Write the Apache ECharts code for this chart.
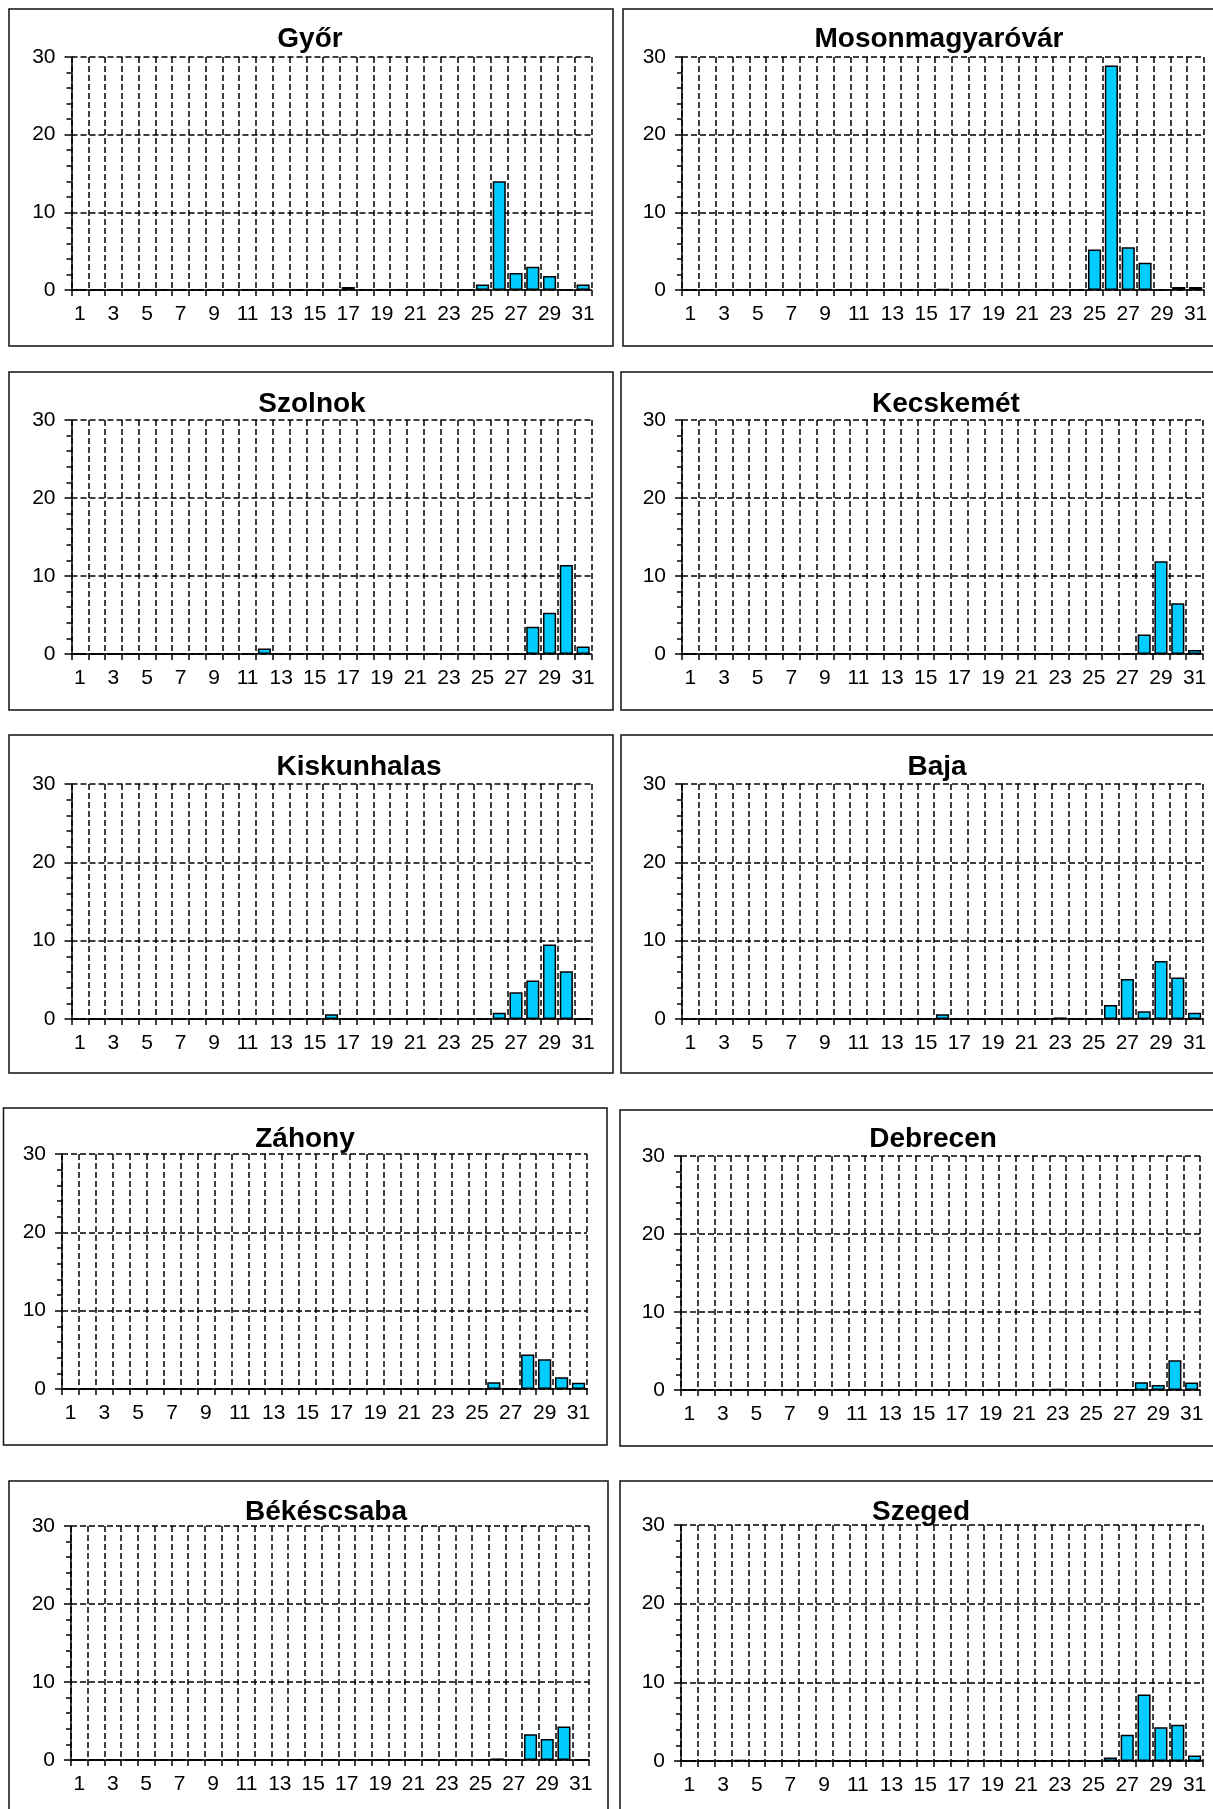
<!DOCTYPE html>
<html>
<head>
<meta charset="utf-8">
<title>Napi megoszlás</title>
<script src="https://cdn.jsdelivr.net/npm/echarts@6/dist/echarts.min.js"></script>
<style>
  html, body { margin: 0; padding: 0; background: #fff; }
  #chart { width: 1213px; height: 1809px; }
</style>
</head>
<body>
<div id="chart"></div>
<script>
// napok (kategóriák)
const days = ['1', '2', '3', '4', '5', '6', '7', '8', '9', '10',
  '11', '12', '13', '14', '15', '16', '17', '18', '19', '20',
  '21', '22', '23', '24', '25', '26', '27', '28', '29', '30', '31'];

const yTicks = [0, 10, 20, 30];

const cities = ['Győr', 'Mosonmagyaróvár', 'Szolnok', 'Kecskemét', 'Kiskunhalas',
  'Baja', 'Záhony', 'Debrecen', 'Békéscsaba', 'Szeged'];

// értékek napok szerint (1..31)
const gyor        = [0, 0, 0, 0, 0,  0, 0, 0, 0, 0,  0, 0, 0, 0, 0,  0, 0.4, 0, 0, 0,  0, 0, 0, 0, 0.7,  14.0, 2.2, 3.0, 1.8, 0,  0.7];
const moson       = [0, 0, 0, 0, 0,  0, 0, 0, 0, 0,  0, 0, 0, 0, 0,  0.15, 0, 0, 0, 0,  0, 0, 0, 0, 5.2,  28.9, 5.5, 3.5, 0, 0.4,  0.4];
const szolnok     = [0, 0, 0, 0, 0,  0, 0, 0, 0, 0,  0, 0.7, 0, 0, 0,  0, 0, 0, 0, 0,  0, 0, 0, 0, 0,  0, 0, 3.5, 5.3, 11.4,  0.95];
const kecskemet   = [0, 0, 0, 0, 0,  0, 0, 0, 0, 0,  0, 0, 0, 0, 0,  0, 0, 0, 0, 0,  0, 0, 0, 0, 0,  0, 0, 2.5, 11.9, 6.5,  0.5];
const kiskunhalas = [0, 0, 0, 0, 0,  0, 0, 0, 0, 0,  0, 0, 0, 0, 0,  0.6, 0, 0, 0, 0,  0, 0, 0, 0, 0,  0.8, 3.4, 4.9, 9.5, 6.1,  0];
const baja        = [0, 0, 0, 0, 0,  0, 0, 0, 0, 0,  0, 0, 0, 0, 0,  0.6, 0, 0, 0, 0,  0, 0, 0.2, 0, 0,  1.8, 5.1, 1.0, 7.4, 5.3,  0.8];
const zahony      = [0, 0, 0, 0, 0,  0, 0, 0, 0, 0,  0, 0, 0, 0, 0,  0, 0, 0, 0, 0,  0, 0, 0, 0, 0,  0.85, 0, 4.4, 3.8, 1.5,  0.8];
const debrecen    = [0, 0, 0, 0, 0,  0, 0, 0, 0, 0,  0, 0, 0, 0, 0,  0, 0, 0, 0, 0,  0, 0, 0.15, 0, 0,  0, 0, 1.0, 0.65, 3.8,  0.95];
const bekescsaba  = [0, 0, 0, 0, 0,  0, 0, 0, 0, 0,  0, 0, 0, 0, 0,  0, 0, 0, 0, 0,  0, 0, 0, 0, 0,  0.2, 0, 3.3, 2.7, 4.3,  0];
const szeged      = [0, 0, 0, 0.15, 0,  0, 0, 0, 0, 0,  0, 0, 0, 0, 0,  0, 0, 0, 0, 0,  0, 0, 0, 0, 0,  0.45, 3.35, 8.45, 4.3, 4.6,  0.7];

const values = [gyor, moson, szolnok, kecskemet, kiskunhalas, baja, zahony, debrecen, bekescsaba, szeged];

// panelek elhelyezése: keret, rajzterület, cím közepe
const panels = [
  { box: [9, 9, 604, 337],      grid: [71.5, 57, 520, 233],  title: [310, 25] },
  { box: [623, 9, 640, 337],    grid: [682, 57, 522, 233],   title: [939, 25] },
  { box: [9, 372, 604, 338],    grid: [71.5, 420, 520, 234], title: [312, 390] },
  { box: [621, 372, 640, 338],  grid: [682, 420, 521, 234],  title: [946, 390] },
  { box: [9, 735, 604, 338],    grid: [71.5, 784, 520, 235], title: [359, 753] },
  { box: [621, 735, 640, 338],  grid: [682, 784, 521, 235],  title: [937, 753] },
  { box: [3.5, 1108, 603.5, 337], grid: [62, 1154, 525, 235], title: [305, 1125] },
  { box: [620, 1110, 640, 336], grid: [681, 1156, 519, 234], title: [933, 1125] },
  { box: [9, 1481, 599, 340],   grid: [71, 1526, 518, 234],  title: [326, 1498] },
  { box: [620, 1481, 640, 340], grid: [681, 1525, 522, 236], title: [921, 1498] }
];

const FONT = '"Liberation Sans", Arial, sans-serif';
const LINE = { color: '#000', width: 1.5 };
const DASH = { color: '#000', width: 1.5, type: [6, 3] };

const chart = echarts.init(document.getElementById('chart'), null, { renderer: 'canvas' });

const option = {
  animation: false,
  backgroundColor: '#fff',
  title: [],
  grid: [],
  xAxis: [],
  yAxis: [],
  series: [],
  graphic: []
};

panels.forEach(function(p, i) {
  option.graphic.push({
    type: 'rect',
    silent: true,
    z: -10,
    shape: { x: p.box[0], y: p.box[1], width: p.box[2], height: p.box[3] },
    style: { fill: 'none', stroke: '#111', lineWidth: 1.5 }
  });

  option.title.push({
    text: cities[i],
    left: p.title[0],
    top: p.title[1],
    textAlign: 'center',
    padding: 0,
    textStyle: { fontFamily: FONT, fontSize: 28, fontWeight: 'bold', color: '#000' }
  });

  option.grid.push({
    left: p.grid[0], top: p.grid[1], width: p.grid[2], height: p.grid[3],
    containLabel: false
  });

  option.xAxis.push({
    type: 'category',
    gridIndex: i,
    data: days,
    axisLine: { show: true, lineStyle: LINE },
    axisTick: { show: true, interval: 0, length: 6, lineStyle: LINE },
    axisLabel: { interval: 1, color: '#000', fontFamily: FONT, fontSize: 21, margin: 14 },
    splitLine: { show: true, interval: 0, lineStyle: DASH }
  });

  option.yAxis.push({
    type: 'value',
    gridIndex: i,
    min: yTicks[0],
    max: yTicks[yTicks.length - 1],
    interval: 10,
    axisLine: { show: true, lineStyle: LINE },
    axisTick: { show: true, length: 7, lineStyle: LINE },
    minorTick: { show: true, splitNumber: 5, length: 5, lineStyle: LINE },
    axisLabel: { color: '#000', fontFamily: FONT, fontSize: 21, margin: 16 },
    splitLine: { show: true, lineStyle: DASH }
  });

  option.series.push({
    name: cities[i],
    type: 'bar',
    xAxisIndex: i,
    yAxisIndex: i,
    data: values[i],
    barCategoryGap: '22%',
    itemStyle: { color: '#00CCFF', borderColor: '#000', borderWidth: 1.5 }
  });
});

chart.setOption(option);

window.addEventListener('resize', function() {
  chart.resize();
});
</script>
</body>
</html>
